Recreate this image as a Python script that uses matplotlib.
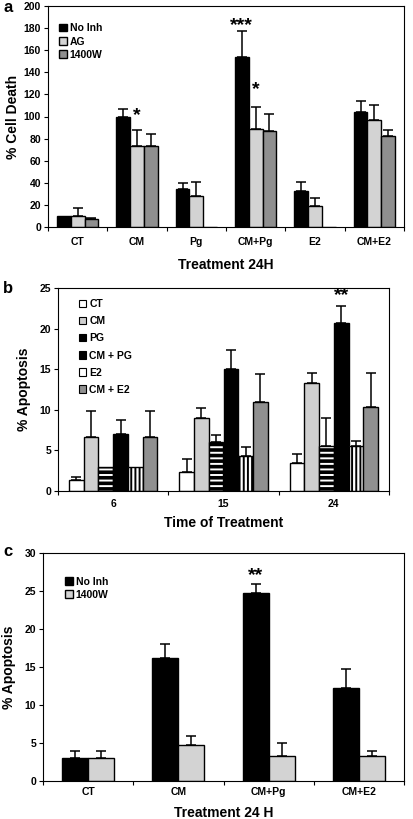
import numpy as np
import matplotlib
matplotlib.use("Agg")
import matplotlib.pyplot as plt

plt.rcParams["font.family"] = ["Liberation Sans", "DejaVu Sans"]
plt.rcParams["font.weight"] = "bold"
plt.rcParams["hatch.linewidth"] = 1.4

# ---- panel a: % cell death, 24H ----
a_cats = ["CT", "CM", "Pg", "CM+Pg", "E2", "CM+E2"]
a_series = ["No Inh", "AG", "1400W"]
a_noinh = [10, 100, 34, 154, 33, 104]
a_ag = [10, 73, 28, 89, 19, 97]
a_w1400 = [7, 73, 0, 87, 0, 82]
a_noinh_err = [0, 7, 6, 23, 8, 10]
a_ag_err = [7, 15, 13, 20, 7, 13]
a_w1400_err = [1, 11, 0, 15, 0, 6]
a_stars = [(1, 1, "*", 101), (3, 0, "***", 182), (3, 1, "*", 124)]

# ---- panel b: % apoptosis vs time ----
b_times = ["6", "15", "24"]
b_series = ["CT", "CM", "PG", "CM + PG", "E2", "CM + E2"]
b_ct = [1.3, 2.4, 3.5]
b_cm = [6.7, 9.0, 13.3]
b_pg = [3.0, 6.0, 5.6]
b_cmpg = [7.0, 15.0, 20.7]
b_e2 = [3.0, 4.3, 5.5]
b_cme2 = [6.7, 11.0, 10.3]
b_ct_err = [0.4, 1.5, 1.0]
b_cm_err = [3.1, 1.2, 1.2]
b_pg_err = [0, 0.9, 3.4]
b_cmpg_err = [1.7, 2.4, 2.1]
b_e2_err = [0, 1.1, 0.6]
b_cme2_err = [3.1, 3.4, 4.2]

# ---- panel c: % apoptosis, 24 H ----
c_cats = ["CT", "CM", "CM+Pg", "CM+E2"]
c_series = ["No Inh", "1400W"]
c_noinh = [3.0, 16.2, 24.7, 12.3]
c_w1400 = [3.0, 4.7, 3.3, 3.3]
c_noinh_err = [1.0, 1.8, 1.2, 2.5]
c_w1400_err = [1.0, 1.2, 1.7, 0.6]

W, H = 413, 819
fig = plt.figure(figsize=(W / 100, H / 100), dpi=100)


def px_axes(left, top, right, bottom):
    return fig.add_axes([left / W, 1 - bottom / H, (right - left) / W, (bottom - top) / H])


def style_axes(ax, ncat, labels, ymax, ystep, xpad=5):
    ax.set_xlim(-0.5, ncat - 0.5)
    ax.set_ylim(0, ymax)
    ax.set_yticks(np.arange(0, ymax + 0.1, ystep))
    ax.set_xticks(np.arange(ncat + 1) - 0.5)
    ax.set_xticklabels([])
    ax.set_xticks(np.arange(ncat), minor=True)
    ax.set_xticklabels(labels, minor=True)
    ax.tick_params(axis="x", which="major", direction="out", length=3, width=0.8)
    ax.tick_params(axis="x", which="minor", length=0, pad=xpad, labelsize=7.5)
    ax.tick_params(axis="y", direction="out", length=3, width=0.8, labelsize=7.5, pad=2)
    for lab in ax.get_xticklabels(minor=True) + ax.get_yticklabels():
        lab.set_fontweight("bold")
    for sp in ax.spines.values():
        sp.set_linewidth(0.8)


def draw_bars(ax, x, vals, errs, width, **kw):
    ax.bar(x, vals, width, edgecolor="black", linewidth=1.0, zorder=2, **kw)
    e = np.array(errs)
    show = e > 0
    ax.errorbar(np.array(x)[show], np.array(vals)[show],
                yerr=[np.zeros(show.sum()), e[show]],
                fmt="none", ecolor="black", elinewidth=1.1, capsize=3.5, capthick=1.1, zorder=3)


# panel a
ax = px_axes(48, 6, 404, 227)
x = np.arange(len(a_cats))
bw = 0.232
a_colors = ["black", "#d3d3d3", "#8f8f8f"]
for i, (vals, errs) in enumerate([(a_noinh, a_noinh_err), (a_ag, a_ag_err), (a_w1400, a_w1400_err)]):
    draw_bars(ax, x + (i - 1) * bw, vals, errs, bw, color=a_colors[i], label=a_series[i])
for ci, si, s, y in a_stars:
    ax.text(ci + (si - 1) * bw, y, s, ha="center", va="center", fontsize=14, fontweight="bold")
style_axes(ax, len(a_cats), a_cats, 200, 20, xpad=7)
ax.set_ylabel("% Cell Death", fontsize=10, fontweight="bold", labelpad=3)
ax.set_xlabel("Treatment 24H", fontsize=10, fontweight="bold", labelpad=8)
ax.legend(loc="upper left", bbox_to_anchor=(0.02, 0.94), frameon=False, fontsize=7.5,
          handlelength=0.7, handleheight=0.7, handletextpad=0.3, labelspacing=0.3,
          borderaxespad=0)
fig.text(3 / W, 1 - 7 / H, "a", fontsize=12, fontweight="bold", va="center")

# panel b
ax = px_axes(58, 288, 389, 491)
x = np.arange(len(b_times))
bw = 0.133
b_vals = [b_ct, b_cm, b_pg, b_cmpg, b_e2, b_cme2]
b_errs = [b_ct_err, b_cm_err, b_pg_err, b_cmpg_err, b_e2_err, b_cme2_err]
b_face = ["white", "#cfcfcf", "black", "black", "white", "#909090"]
b_hatch = [None, None, "---", None, "||||", None]
b_hedge = [None, None, "white", None, "black", None]
b_lhatch = [None, None, None, None, "|", None]
handles = []
for i in range(6):
    xi = x + (i - 2.5) * bw
    if b_hatch[i]:
        ax.bar(xi, b_vals[i], bw, color=b_face[i], edgecolor=b_hedge[i], hatch=b_hatch[i],
               linewidth=0, zorder=2)
        ax.bar(xi, b_vals[i], bw, fill=False, edgecolor="black", linewidth=1.0, zorder=2)
        e = np.array(b_errs[i])
        show = e > 0
        ax.errorbar(xi[show], np.array(b_vals[i])[show],
                    yerr=[np.zeros(show.sum()), e[show]],
                    fmt="none", ecolor="black", elinewidth=1.1, capsize=3.5, capthick=1.1, zorder=3)
    else:
        draw_bars(ax, xi, b_vals[i], b_errs[i], bw, color=b_face[i])
    h = plt.Rectangle((0, 0), 1, 1, facecolor=b_face[i], edgecolor="black", linewidth=0.8,
                      hatch=b_lhatch[i])
    handles.append(h)
ax.text(2 + 0.5 * bw, 24.1, "**", ha="center", va="center", fontsize=14, fontweight="bold")
style_axes(ax, len(b_times), b_times, 25, 5, xpad=6)
ax.set_ylabel("% Apoptosis", fontsize=10, fontweight="bold", labelpad=6)
ax.set_xlabel("Time of Treatment", fontsize=10, fontweight="bold", labelpad=5)
ax.legend(handles, b_series, loc="upper left", bbox_to_anchor=(0.05, 0.965), frameon=False,
          fontsize=7.5, handlelength=0.7, handleheight=0.7, handletextpad=0.3,
          labelspacing=0.68, borderaxespad=0)
fig.text(3 / W, 1 - 288 / H, "b", fontsize=12, fontweight="bold", va="center")

# panel c
ax = px_axes(43, 553, 404, 781)
x = np.arange(len(c_cats))
bw = 0.289
c_colors = ["black", "#d3d3d3"]
for i, (vals, errs) in enumerate([(c_noinh, c_noinh_err), (c_w1400, c_w1400_err)]):
    draw_bars(ax, x + (i - 0.5) * bw, vals, errs, bw, color=c_colors[i], label=c_series[i])
ax.text(2 - 0.5 * bw, 27.0, "**", ha="center", va="center", fontsize=14, fontweight="bold")
style_axes(ax, len(c_cats), c_cats, 30, 5, xpad=4)
ax.set_ylabel("% Apoptosis", fontsize=10, fontweight="bold", labelpad=6)
ax.set_xlabel("Treatment 24 H", fontsize=10, fontweight="bold", labelpad=7)
ax.legend(loc="upper left", bbox_to_anchor=(0.05, 0.915), frameon=False, fontsize=7.5,
          handlelength=0.7, handleheight=0.7, handletextpad=0.3, labelspacing=0.3,
          borderaxespad=0)
fig.text(3 / W, 1 - 552 / H, "c", fontsize=12, fontweight="bold", va="center")

fig.savefig("out.png", dpi=100)
